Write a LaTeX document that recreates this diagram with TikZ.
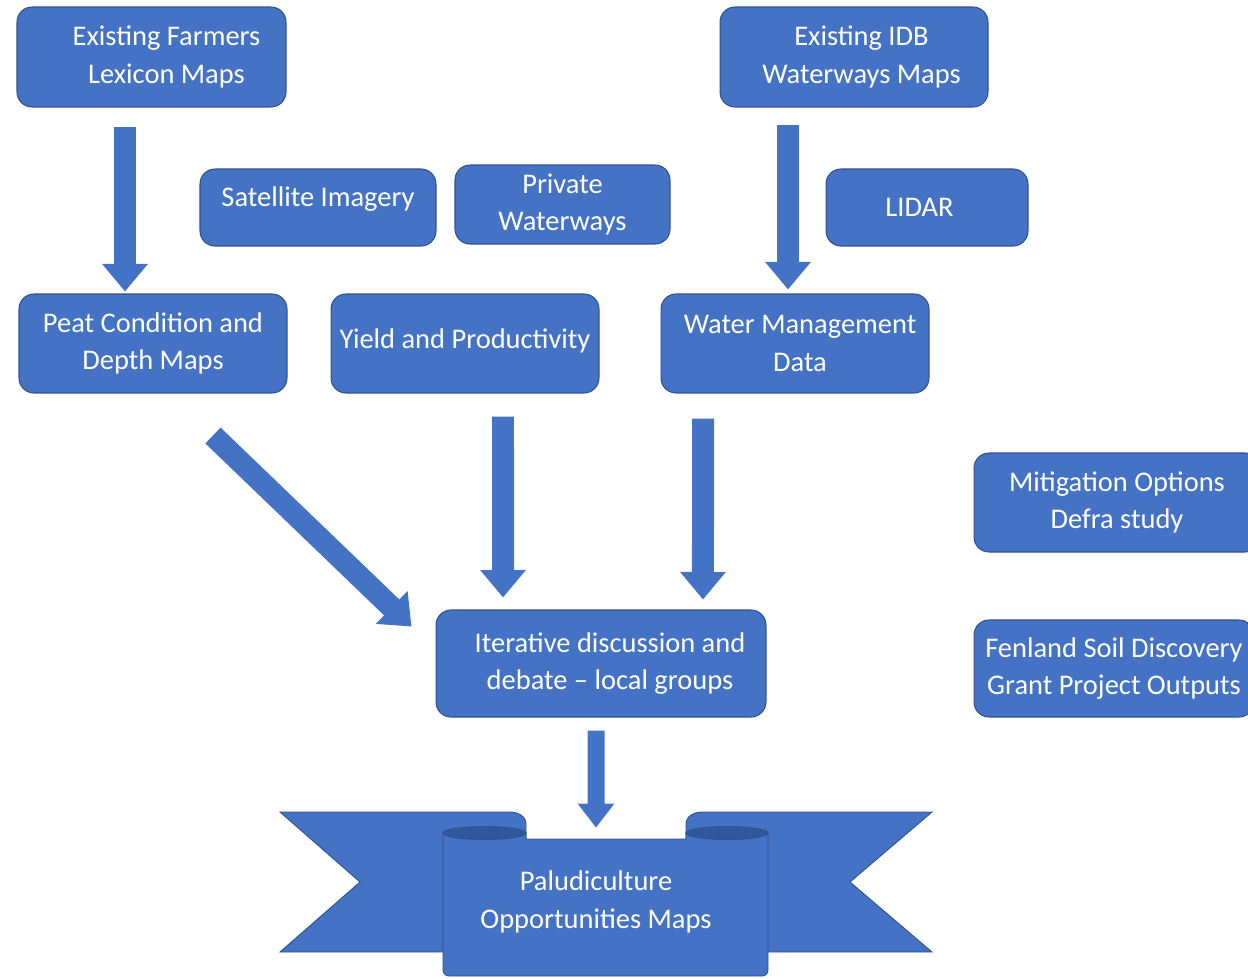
\documentclass[tikz,border=0pt]{standalone}
\usepackage{fontspec}
\setmainfont{Carlito}
\usepackage{tikz}
\usetikzlibrary{arrows.meta}
\definecolor{boxblue}{HTML}{4472C4}
\definecolor{edgeblue}{HTML}{2F528F}
\definecolor{foldblue}{RGB}{50,88,156}

\begin{document}
\begin{tikzpicture}[x=0.02cm,y=-0.02cm,
    box/.style={draw=edgeblue,fill=boxblue,line width=0.6pt,rounded corners=0.3cm,
      text=white,align=center,inner sep=2pt,font=\fontsize{16.2}{21.5}\selectfont},
    blockarrow/.style={draw=boxblue,line width=0.44cm,-{Triangle[width=0.88cm,length=0.55cm]}},
    ribbon/.style={fill=boxblue,draw=edgeblue,line width=0.5pt},
    fold/.style={fill=foldblue,draw=edgeblue,line width=0.5pt}]
  \useasboundingbox (0,0) rectangle (1248,978);

  % first row
  \node[box,minimum width=5.38cm,minimum height=2cm] (farmers) at (151.5,57) {\hspace*{0.6cm}Existing Farmers\\\hspace*{0.6cm}Lexicon Maps};
  \node[box,minimum width=5.36cm,minimum height=2cm] (idb) at (854,57) {\hspace*{0.3cm}Existing IDB\\\hspace*{0.3cm}Waterways Maps};
  \node[box,minimum width=4.72cm,minimum height=1.54cm] (satellite) at (318,207.5) {\raisebox{0.45cm}{Satellite Imagery}};
  \node[box,minimum width=4.3cm,minimum height=1.58cm] (private) at (562.5,204.5) {Private\\Waterways};
  \node[box,minimum width=4.04cm,minimum height=1.54cm] (lidar) at (927,207.5) {LIDAR\hspace*{0.3cm}};

  % second row
  \node[box,minimum width=5.36cm,minimum height=1.98cm] (peat) at (153,343.5) {Peat Condition and\\Depth Maps};
  \node[box,minimum width=5.36cm,minimum height=1.98cm] (yield) at (465,343.5) {\raisebox{0.2cm}{Yield and Productivity}};
  \node[box,minimum width=5.36cm,minimum height=1.98cm] (water) at (795,343.5) {\hspace*{0.2cm}Water Management\\\hspace*{0.2cm}Data};

  % side boxes
  \node[box,minimum width=5.72cm,minimum height=1.98cm] (mitigation) at (1117,502.5) {Mitigation Options\\Defra study};
  \node[box,minimum width=5.6cm,minimum height=1.94cm] (fenland) at (1114,668.5) {Fenland Soil Discovery\\Grant Project Outputs};

  \node[box,minimum width=6.6cm,minimum height=2.14cm] (iterative) at (601,663.5) {\hspace*{0.36cm}Iterative discussion and\\\hspace*{0.36cm}debate -- local groups};

  % ribbon
  \path[ribbon] (280,812) -- (510,812) to[out=0,in=90] (526,824) -- (526,952) -- (280,952) -- (360,882) -- cycle;
  \path[ribbon] (932,812) -- (702,812) to[out=180,in=90] (686,824) -- (686,952) -- (932,952) -- (850,882) -- cycle;
  \path[fold] (484.5,833) ellipse [x radius=0.83cm,y radius=0.13cm];
  \path[fold] (727,833) ellipse [x radius=0.82cm,y radius=0.13cm];
  \path[ribbon] (443,833) arc[start angle=180,end angle=360,x radius=0.83cm,y radius=0.13cm]
    -- (526,839) -- (686,839)
    -- (686,833) arc[start angle=180,end angle=360,x radius=0.82cm,y radius=0.13cm]
    [rounded corners=0.12cm] -- (768,976) -- (443,976) [sharp corners] -- cycle;
  \node[text=white,align=center,minimum height=2cm,font=\fontsize{16.2}{21.5}\selectfont] (maps) at (596,902) {Paludiculture\\Opportunities Maps};

  % arrows
  \draw[blockarrow] ([xshift=-0.53cm,yshift=-0.38cm]farmers.south) -- ([xshift=-0.53cm,yshift=0.04cm]farmers.south |- peat.north);
  \draw[blockarrow] ([xshift=-1.32cm,yshift=-0.34cm]idb.south) -- ([xshift=-1.32cm,yshift=0.08cm]idb.south |- water.north);
  \draw[blockarrow] ([shift={(1.2cm,-0.84cm)}]peat.south) -- ([shift={(-0.48cm,-0.34cm)}]iterative.north west);
  \draw[blockarrow] ([xshift=0.76cm,yshift=-0.46cm]yield.south) -- ([xshift=-1.96cm,yshift=0.24cm]iterative.north);
  \draw[blockarrow] ([xshift=-1.84cm,yshift=-0.5cm]water.south) -- ([xshift=2.04cm,yshift=0.2cm]iterative.north);
  \draw[blockarrow,line width=0.34cm,-{Triangle[width=0.7cm,length=0.48cm]}] ([xshift=-0.1cm,yshift=-0.26cm]iterative.south) -- ([yshift=0.48cm]maps.north);
\end{tikzpicture}
\end{document}
